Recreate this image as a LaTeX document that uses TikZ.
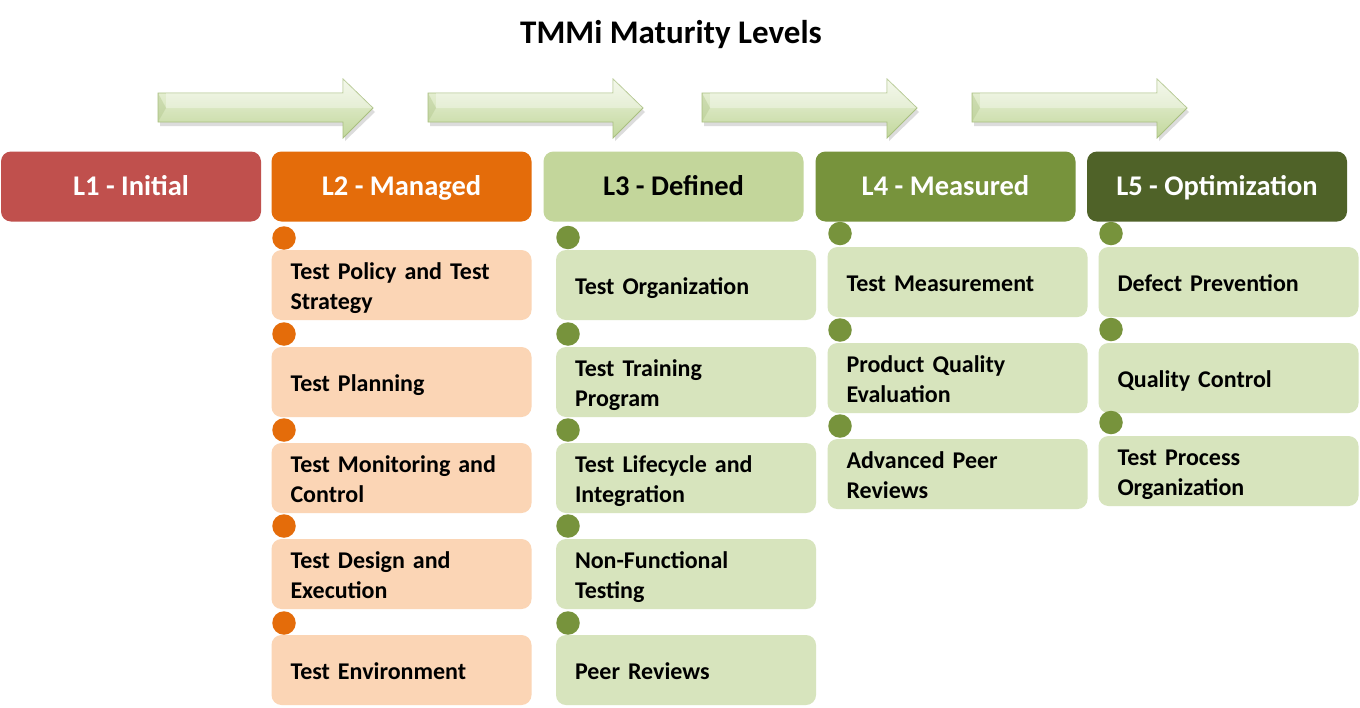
\documentclass[tikz,border=0pt]{standalone}
\usepackage{fontspec}
\setmainfont{Carlito}
\definecolor{cLa}{HTML}{C0504D}
\definecolor{cLb}{HTML}{E46C0A}
\definecolor{cLc}{HTML}{C3D69B}
\definecolor{cLd}{HTML}{77933C}
\definecolor{cLe}{HTML}{4F6228}
\definecolor{peach}{HTML}{FBD5B5}
\definecolor{sage}{HTML}{D7E4BD}
\definecolor{arrtop}{HTML}{EEF5E1}
\definecolor{arrbot}{HTML}{C2D79C}
\definecolor{arrline}{HTML}{A9BF80}
\newcommand\itxt[1]{\rule{0pt}{25.5pt}#1\rule[-6pt]{0pt}{6pt}}
\tikzset{
  hdr/.style={rounded corners=10pt, minimum width=260pt, minimum height=70pt,
    inner sep=0pt, text height=25.4pt, text depth=7pt,
    font=\fontsize{28.5}{34}\selectfont\bfseries, text=white},
  itembox/.style={rounded corners=10pt, minimum width=260pt, minimum height=70pt,
    inner xsep=19pt, inner ysep=0pt, text width=222pt, align=left,
    font=\fontsize{24}{30}\selectfont\bfseries, text=black},
  orangeitem/.style={itembox, fill=peach},
  greenitem/.style={itembox, fill=sage},
  dot/.style={circle, minimum size=23.5pt, inner sep=0pt},
  odot/.style={dot, fill=cLb},
  gdot/.style={dot, fill=cLd},
  titlestyle/.style={font=\fontsize{33}{38}\selectfont\bfseries, text=black,
    text height=28pt, text depth=7pt, inner sep=0pt}
}
\newcommand\levelarrow[1]{%
  \fill[black!30, opacity=0.45] (#1+2,97) -- (#1+187,97) -- (#1+187,83) -- (#1+217,112) -- (#1+187,141) -- (#1+187,126) -- (#1+2,126) -- cycle;
  \shade[top color=arrtop, bottom color=arrbot, draw=arrline, line width=0.8pt]
    (#1,93) -- (#1+185,93) -- (#1+185,79) -- (#1+215,108) -- (#1+185,138) -- (#1+185,122) -- (#1,122) -- cycle;
  \fill[white, opacity=0.35] (#1+8,93) -- (#1+185,93) -- (#1+185,79) -- (#1+215,108) -- (#1+8,108) -- cycle;
  \fill[arrline, opacity=0.35] (#1,93) -- (#1+8,108) -- (#1,122) -- cycle;
}
\begin{document}
\begin{tikzpicture}[x=1pt, y=-1pt]
\useasboundingbox[fill=white] (0,0) rectangle (1360,707);

\node[titlestyle] (title) at (671,33) {TMMi Maturity Levels};

\levelarrow{158}
\levelarrow{428}
\levelarrow{702}
\levelarrow{972}

% headers
\node[hdr, fill=cLa] (L1) at (131,186.5) {L1 - Initial};
\node[hdr, fill=cLb] (L2) at (401.5,186.5) {L2 - Managed};
\node[hdr, fill=cLc, text=black] (L3) at (673.5,186.5) {L3 - Defined};
\node[hdr, fill=cLd] (L4) at (945.5,186.5) {L4 - Measured};
\node[hdr, fill=cLe] (L5) at (1217,186.5) {L5 - Optimization};

% L2 column
\node[odot] (d21) at (284,238) {};
\node[orangeitem] (i21) at (401.5,285) {\itxt{Test Policy and Test\\Strategy}};
\node[odot] (d22) at (284,334) {};
\node[orangeitem] (i22) at (401.5,382) {\itxt{Test Planning}};
\node[odot] (d23) at (284,430) {};
\node[orangeitem] (i23) at (401.5,478) {\itxt{Test Monitoring and\\Control}};
\node[odot] (d24) at (284,526) {};
\node[orangeitem] (i24) at (401.5,574) {\itxt{Test Design and\\Execution}};
\node[odot] (d25) at (284,623) {};
\node[orangeitem] (i25) at (401.5,670) {\itxt{Test Environment}};

% L3 column
\node[gdot] (d31) at (568,237.5) {};
\node[greenitem] (i31) at (686,285) {\itxt{Test Organization}};
\node[gdot] (d32) at (568,334) {};
\node[greenitem] (i32) at (686,382) {\itxt{Test Training\\Program}};
\node[gdot] (d33) at (568,430) {};
\node[greenitem] (i33) at (686,478) {\itxt{Test Lifecycle and\\Integration}};
\node[gdot] (d34) at (568,526) {};
\node[greenitem] (i34) at (686,574) {\itxt{Non-Functional\\Testing}};
\node[gdot] (d35) at (568,623) {};
\node[greenitem] (i35) at (686,670) {\itxt{Peer Reviews}};

% L4 column
\node[gdot] (d41) at (840,233.5) {};
\node[greenitem] (i41) at (957.5,282) {\itxt{Test Measurement}};
\node[gdot] (d42) at (840,330) {};
\node[greenitem] (i42) at (957.5,378) {\itxt{Product Quality\\Evaluation}};
\node[gdot] (d43) at (840,426) {};
\node[greenitem] (i43) at (957.5,474) {\itxt{Advanced Peer\\Reviews}};

% L5 column
\node[gdot] (d51) at (1111,233.5) {};
\node[greenitem] (i51) at (1228.5,282) {\itxt{Defect Prevention}};
\node[gdot] (d52) at (1111,329.5) {};
\node[greenitem] (i52) at (1228.5,378) {\itxt{Quality Control}};
\node[gdot] (d53) at (1111,422.5) {};
\node[greenitem] (i53) at (1228.5,471) {\itxt{Test Process\\Organization}};
\end{tikzpicture}
\end{document}
